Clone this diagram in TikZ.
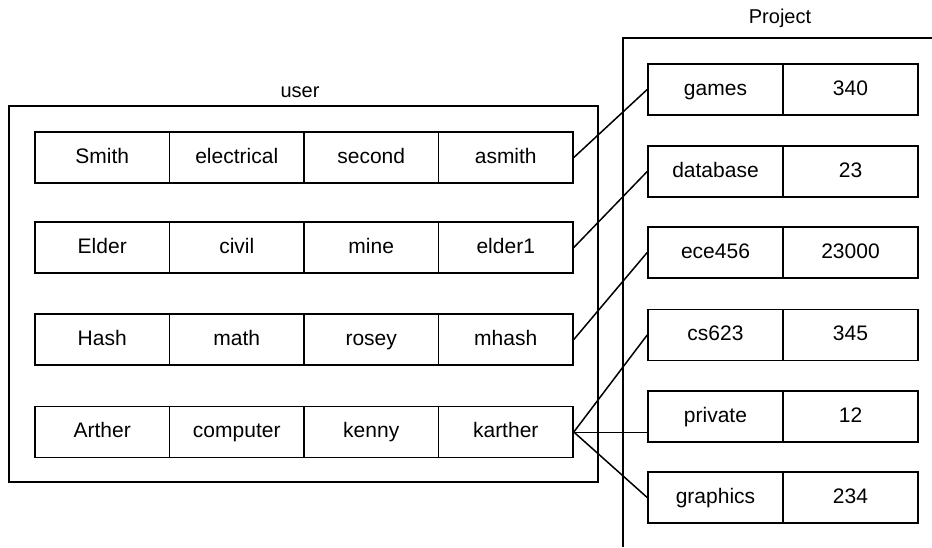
\documentclass[tikz,border=0pt]{standalone}
\usepackage{fontspec}
\setmainfont{Liberation Sans}
\begin{document}
\begin{tikzpicture}[x=1pt,y=-1pt,
  cell/.style={draw, line width=1.6pt, minimum width=134.5pt, minimum height=51pt, inner sep=0pt,
    text height=15pt, text depth=4pt, font=\fontsize{21}{25}\selectfont},
  pcell/.style={cell, minimum width=135pt},
  frame/.style={draw, line width=1.7pt},
  conn/.style={line width=1.5pt},
  thinconn/.style={line width=0.9pt},
  lab/.style={font=\fontsize{20}{24}\selectfont}]
\useasboundingbox (0,0) rectangle (932,547);
% user container
\node[frame, minimum width=589pt, minimum height=376pt, inner sep=0pt] (userbox) at (303.5,294) {};
\node[lab] (userlab) at (300,92) {user};
% user rows
\foreach \r/\yy/\a/\b/\c/\d in {1/157.5/Smith/electrical/second/asmith,
                                2/247.5/Elder/civil/mine/elder1,
                                3/339.5/Hash/math/rosey/mhash,
                                4/432/Arther/computer/kenny/karther}{
  \node[cell] (u\r1) at (102.25,\yy) {\a};
  \node[cell] (u\r2) at (236.75,\yy) {\b};
  \node[cell] (u\r3) at (371.25,\yy) {\c};
  \node[cell] (u\r4) at (505.75,\yy) {\d};
}
% project container
\coordinate (pc1) at (932,38);
\coordinate (pc2) at (623,38);
\coordinate (pc3) at (623,547);
\draw[frame] (pc1) -- (pc2) -- (pc3);
\node[lab] (projlab) at (780,18) {Project};
% project rows
\foreach \r/\yy/\a/\b in {1/89.5/games/340, 2/171.5/database/23, 3/252.5/ece456/23000,
                          4/335/cs623/345, 5/416.5/private/12, 6/497.5/graphics/234}{
  \node[pcell] (p\r n) at (715.5,\yy) {\a};
  \node[pcell] (p\r v) at (850.5,\yy) {\b};
}
% connectors
\draw[conn] (u14.east) -- (p1n.west);
\draw[conn] (u24.east) -- (p2n.west);
\draw[conn] (u34.east) -- (p3n.west);
\draw[conn] (u44.east) -- (p4n.west);
\draw[conn] (u44.east) -- (p6n.west);
\draw[thinconn] (u44.east) -- (u44.east -| p5n.west);
\end{tikzpicture}
\end{document}
